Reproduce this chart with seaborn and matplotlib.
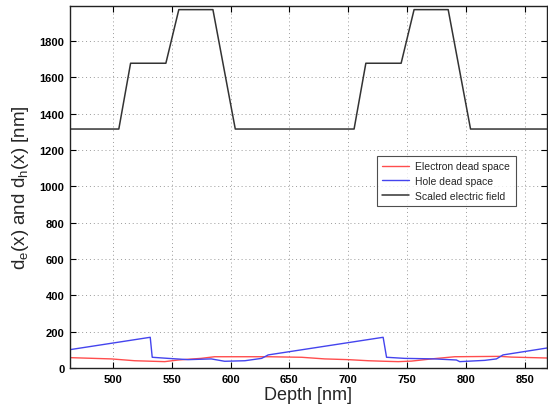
import matplotlib
matplotlib.use("Agg")
import matplotlib.pyplot as plt
import seaborn as sns
import pandas as pd

# Scaled electric field profile (two periods of the multiplication region)
field_depth = [463.5, 505, 515, 545, 556, 585, 604, 705, 715, 745, 756, 785, 804, 869]
field_value = [1315, 1315, 1677, 1677, 1972, 1972, 1315, 1315, 1677, 1677, 1972, 1972, 1315, 1315]

# Hole dead space
hole_depth = [463.5, 531.7, 533.4, 546.8, 563.8, 583.6, 595.0, 612.2, 626.4, 632.0,
              729.7, 732.6, 748.0, 773.6, 792.0, 794.8, 816.0, 826.0, 831.6, 869.0]
hole_value = [101, 169, 59, 53, 46, 50, 37, 40, 53, 72,
              169, 59, 53, 50, 44, 35, 42, 50, 72, 110]

# Electron dead space
elec_depth = [463.5, 498.6, 518.5, 544.0, 555.3, 575.0, 586.4, 597.7, 632.0, 660.4,
              680.0, 700.0, 717.0, 731.0, 742.5, 753.8, 770.8, 790.6, 828.8, 838.8, 869.0]
elec_value = [57, 50, 40, 35, 44, 53, 62, 62, 62, 59,
              50, 46, 40, 37, 35, 38, 50, 62, 64, 60, 55]

x_ticks = [500, 550, 600, 650, 700, 750, 800, 850]
y_ticks = [0, 200, 400, 600, 800, 1000, 1200, 1400, 1600, 1800]

sns.set_theme(style="white")
plt.rcParams["font.family"] = ["Liberation Sans", "DejaVu Sans"]
plt.rcParams["mathtext.fontset"] = "custom"
plt.rcParams["mathtext.rm"] = "Liberation Sans"

fig = plt.figure(figsize=(5.48, 4.14), dpi=100)
ax = fig.add_axes([70 / 548, 45 / 414, 477 / 548, 362 / 414])

elec_df = pd.DataFrame({"depth": elec_depth, "value": elec_value})
hole_df = pd.DataFrame({"depth": hole_depth, "value": hole_value})
field_df = pd.DataFrame({"depth": field_depth, "value": field_value})

sns.lineplot(data=elec_df, x="depth", y="value", ax=ax, color="#ff4d4d",
             lw=1.0, label="Electron dead space", sort=False)
sns.lineplot(data=hole_df, x="depth", y="value", ax=ax, color="#4444ee",
             lw=1.0, label="Hole dead space", sort=False)
sns.lineplot(data=field_df, x="depth", y="value", ax=ax, color="#333333",
             lw=1.1, label="Scaled electric field", sort=False)

ax.set_xlim(463.5, 869)
ax.set_ylim(0, 1992)
ax.set_xticks(x_ticks)
ax.set_yticks(y_ticks)
ax.set_xticklabels([str(v) for v in x_ticks])
ax.set_yticklabels([str(v) for v in y_ticks])

ax.grid(True, linestyle=(0, (1, 3)), color="#9a9a9a", lw=0.7)
ax.tick_params(direction="in", length=4, width=0.8, top=True, right=True,
               bottom=True, left=True, labelsize=8, colors="black", pad=4)
for lab in ax.get_xticklabels() + ax.get_yticklabels():
    lab.set_fontweight("bold")
for sp in ax.spines.values():
    sp.set_color("#222222")
    sp.set_linewidth(1.0)

ax.set_xlabel("Depth [nm]", fontsize=13, labelpad=2)
ax.set_ylabel(r"d$_\mathregular{e}$(x) and d$_\mathregular{h}$(x) [nm]",
              fontsize=13.5, labelpad=6)

leg = ax.legend(loc="upper right", bbox_to_anchor=(0.945, 0.6), fontsize=7.5,
                frameon=True, fancybox=False, handlelength=2.6,
                borderpad=0.5, labelspacing=0.45, handletextpad=0.6)
leg.get_frame().set_edgecolor("#222222")
leg.get_frame().set_linewidth(0.8)

fig.savefig("out.png", dpi=100)
